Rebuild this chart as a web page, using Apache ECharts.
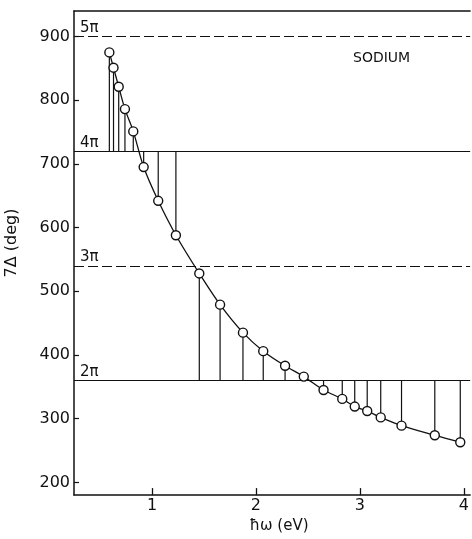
<!DOCTYPE html>
<html>
<head>
    <meta charset="utf-8">
    <script src="https://cdn.jsdelivr.net/npm/echarts@6/dist/echarts.min.js"></script>
</head>
<body style="margin:0;background:#fff;">
    <div id="main" style="width: 472px;height:539px;"></div>
    <script type="text/javascript">
        // photon energy (eV) and phase 7Δ (deg)
        var energy = [0.59, 0.63, 0.68, 0.74, 0.82, 0.92, 1.06, 1.23, 1.455, 1.655, 1.875,
            2.07, 2.28, 2.46, 2.65, 2.83, 2.95, 3.07, 3.20, 3.40, 3.72, 3.965];
        var phase = [875, 851, 821, 786, 751, 695, 642, 588, 528, 479, 435,
            406, 383, 366, 345, 331, 319, 312, 302, 289, 274, 263];

        // multiples of pi drawn as horizontal references
        var piLevels = [900, 720, 540, 360];
        var piLabels = ['5\u03c0', '4\u03c0', '3\u03c0', '2\u03c0'];
        var piDashed = [true, false, true, false];

        var yTicks = [200, 300, 400, 500, 600, 700, 800, 900];
        var xTicks = [1, 2, 3, 4];

        var ink = '#111';
        var font = 'DejaVu Sans';

        var myChart = echarts.init(document.getElementById('main'));

        // drop line from each point to the nearest multiple of 2π
        var drops = energy.map(function (x, i) {
            return [x, phase[i], Math.round(phase[i] / 360) * 360];
        });

        var refLines = piLevels.map(function (v, i) {
            return {
                yAxis: v,
                lineStyle: { type: piDashed[i] ? [10, 4] : 'solid', color: ink, width: 1.2 },
                label: {
                    show: true, formatter: piLabels[i], position: 'insideStartTop',
                    distance: [6, 1], color: ink, fontSize: 15, fontFamily: font
                }
            };
        });

        var option = {
            animation: false,
            grid: { left: 74, top: 11, right: 0, bottom: 41 },
            graphic: [{
                type: 'text', left: 353, top: 51,
                style: { text: 'SODIUM', fontSize: 14, fontFamily: font, fill: ink }
            }, {
                type: 'text', x: 12, y: 243, rotation: Math.PI / 2,
                style: {
                    text: '7\u0394 (deg)', fontSize: 16, fontFamily: font, fill: ink,
                    align: 'center', verticalAlign: 'middle'
                }
            }],
            xAxis: [{
                type: 'value', min: 0.25, max: 4.06, interval: 0.25,
                name: '\u0127\u03c9 (eV)', nameLocation: 'middle', nameGap: 23,
                nameTextStyle: { fontSize: 15, fontFamily: font, color: ink, padding: [0, 0, 0, 14] },
                axisLine: { lineStyle: { color: ink, width: 1.5 } },
                axisTick: {
                    inside: true, length: 7, lineStyle: { color: ink, width: 1.3 },
                    customValues: xTicks
                },
                axisLabel: {
                    customValues: xTicks, margin: 3, fontSize: 16, fontFamily: font, color: ink
                },
                splitLine: { show: false }
            }, {
                type: 'value', position: 'top', min: 0.25, max: 4.06,
                axisLine: { show: true, lineStyle: { color: ink, width: 1.5 } },
                axisTick: { show: false }, axisLabel: { show: false }, splitLine: { show: false }
            }],
            yAxis: {
                type: 'value', min: 180, max: 940, interval: 20,
                axisLine: { show: true, lineStyle: { color: ink, width: 1.5 } },
                axisTick: {
                    inside: true, length: 5, lineStyle: { color: ink, width: 1.2 },
                    customValues: yTicks
                },
                axisLabel: {
                    customValues: yTicks, margin: 4, fontSize: 16, fontFamily: font, color: ink
                },
                splitLine: { show: false }
            },
            series: [{
                type: 'custom',
                data: drops,
                z: 1,
                renderItem: function (params, api) {
                    var p1 = api.coord([api.value(0), api.value(1)]);
                    var p2 = api.coord([api.value(0), api.value(2)]);
                    return {
                        type: 'line',
                        shape: { x1: p1[0], y1: p1[1], x2: p2[0], y2: p2[1] },
                        style: { stroke: ink, lineWidth: 1.2 }
                    };
                }
            }, {
                type: 'line',
                data: energy.map(function (x, i) { return [x, phase[i]]; }),
                smooth: 0.3,
                z: 3,
                symbol: 'circle',
                symbolSize: 9,
                showAllSymbol: true,
                lineStyle: { color: ink, width: 1.3 },
                itemStyle: { color: '#fff', borderColor: ink, borderWidth: 1.4 },
                markLine: {
                    silent: true, symbol: 'none', z: 2,
                    data: refLines
                }
            }]
        };

        myChart.setOption(option);
    </script>
</body>
</html>
